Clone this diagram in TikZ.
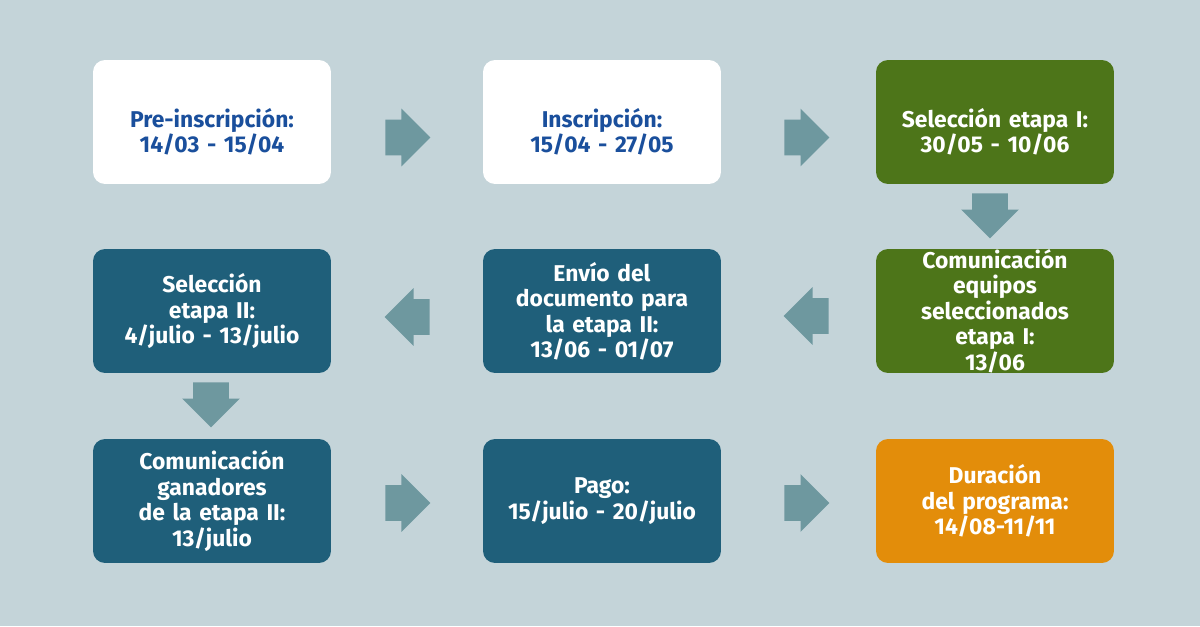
\documentclass[tikz,border=0pt]{standalone}
\usepackage{fontspec}
\setmainfont{Fira Sans}
\usetikzlibrary{shapes.arrows}

\definecolor{bgcol}{HTML}{C4D4D9}
\definecolor{bluetext}{HTML}{1A4F9C}
\definecolor{greenbox}{HTML}{4D7519}
\definecolor{tealbox}{HTML}{1F5F7A}
\definecolor{orangebox}{HTML}{E38D0A}
\definecolor{arrowcol}{HTML}{6E989F}

\begin{document}
\begin{tikzpicture}[x=0.02cm, y=-0.02cm,
    stage/.style={rounded corners=0.24cm, minimum width=4.76cm, minimum height=2.48cm,
      inner sep=0pt, align=center, text width=4.5cm,
      font=\fontsize{13}{14.5}\selectfont\bfseries},
    whitestage/.style={stage, fill=white, text=bluetext},
    greenstage/.style={stage, fill=greenbox, text=white},
    tealstage/.style={stage, fill=tealbox, text=white},
    orangestage/.style={stage, fill=orangebox, text=white},
    blockarrow/.style={single arrow, fill=arrowcol, anchor=tail,
      inner xsep=0pt, inner ysep=0.35cm, minimum height=0.9cm, minimum width=0pt,
      single arrow head extend=0.22cm, single arrow head indent=0pt},
    downarrow/.style={blockarrow, shape border rotate=270, inner xsep=0.35cm, inner ysep=0pt}]

        % Background
        \fill[bgcol] (0,0) rectangle (1200,626);
        \useasboundingbox (0,0) rectangle (1200,626);

        % Row 1
        \node[whitestage] (prein) at (212,122) {\rule{0pt}{22pt}Pre-inscripción:\\ 14/03 - 15/04};
        \node[whitestage] (insc) at (602,122) {\rule{0pt}{22pt}Inscripción:\\ 15/04 - 27/05};
        \node[greenstage] (selone) at (995,122) {\rule{0pt}{22pt}Selección etapa I:\\ 30/05 - 10/06};

        % Row 2
        \node[greenstage] (comone) at (995,311) {Comunicación\\ equipos\\ seleccionados\\ etapa I:\\ 13/06};
        \node[tealstage] (envio) at (602,311) {Envío del\\ documento para\\ la etapa II:\\ 13/06 - 01/07};
        \node[tealstage] (seltwo) at (212,311) {Selección\\ etapa II:\\ 4/julio - 13/julio};

        % Row 3
        \node[tealstage] (comtwo) at (212,501) {Comunicación\\ ganadores\\ de la etapa II:\\ 13/julio};
        \node[tealstage] (pago) at (602,501) {Pago:\\ 15/julio - 20/julio};
        \node[orangestage] (duracion) at (995,501) {Duración\\ del programa:\\ 14/08-11/11};

        % Arrows
        \node[blockarrow] (ar1) at (385,137.5) {};
        \node[blockarrow] (ar2) at (784,137.5) {};
        \node[downarrow] (ar3) at (990,193) {};
        \node[blockarrow, shape border rotate=180] (ar4) at (829,316) {};
        \node[blockarrow, shape border rotate=180] (ar5) at (430,317) {};
        \node[downarrow] (ar6) at (211,382) {};
        \node[blockarrow] (ar7) at (385,503) {};
        \node[blockarrow] (ar8) at (784,503) {};

\end{tikzpicture}
\end{document}
